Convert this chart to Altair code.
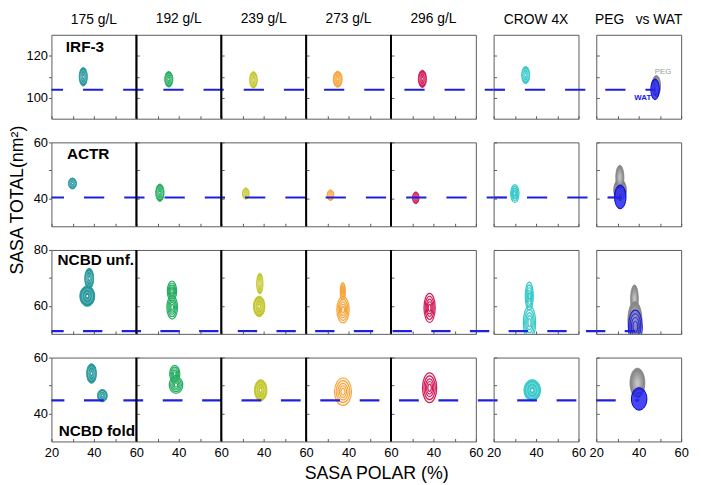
import altair as alt
import pandas as pd

FONT = "Liberation Sans"

# ---------------- data ----------------
ROW_NAMES = ["IRF-3", "ACTR", "NCBD unf.", "NCBD fold"]
ROW_LABEL_X = [26.8, 27.3, 22.9, 23.4]
ROW_LABEL_Y = [121.8, 54.1, 74.5, 32.1]
COL_TITLES = ["175 g/L", "192 g/L", "239 g/L", "273 g/L", "296 g/L", "CROW 4X",
              "PEG\u00a0\u00a0\u00a0vs WAT"]
COL_COLORS = ["#27979b", "#27ad62", "#c4c62f", "#f6a53c", "#d01c5a", "#3ac9c9", "#8e8e8e"]
Y_DOMAINS = [[90, 130], [30, 60], [50, 80], [30, 60]]
Y_TICKS = [[100, 110, 120], [40, 50, 60], [60, 70, 80], [40, 50, 60]]
Y_LABELS = [[100, 120], [40, 60], [60, 80], [40, 60]]
X_DOMAIN = [20, 60]
X_TICKS = [20, 30, 40, 50, 60]
X_LABELS = [20, 40, 60]
REF_LINE = [103.8, 40.3, 51.0, 44.7]
WAT_END = [47.7, 31.3, 38.4, 40.2]

# density blobs: panel row, panel column, centre, half-spread (x, y), look
BLOB_ROW = [0, 0, 0, 0, 0, 0, 0, 0,
            1, 1, 1, 1, 1, 1, 1, 1, 1,
            2, 2, 2, 2, 2, 2, 2, 2, 2, 2, 2, 2, 2, 2,
            3, 3, 3, 3, 3, 3, 3, 3, 3, 3]
BLOB_COL = [0, 1, 2, 3, 4, 5, 6, 6,
            0, 1, 2, 3, 4, 5, 6, 6, 6,
            0, 0, 1, 1, 2, 2, 3, 3, 4, 5, 5, 6, 6, 6,
            0, 0, 1, 1, 2, 3, 4, 5, 6, 6]
BLOB_CX = [35.0, 35.3, 35.2, 34.9, 34.8, 35.1, 48.3, 47.7,
           29.9, 31.1, 31.6, 31.5, 31.7, 30.0, 31.2, 31.1, 31.3,
           37.8, 36.9, 36.8, 36.9, 38.2, 37.9, 37.3, 37.4, 38.2, 36.8, 36.9, 38.0, 38.2, 38.4,
           38.9, 44.0, 38.1, 38.7, 38.6, 37.4, 38.2, 38.2, 39.4, 40.2]
BLOB_CY = [110.0, 108.8, 108.5, 108.8, 109.0, 110.8, 105.6, 104.0,
           45.3, 42.0, 41.7, 41.1, 40.2, 41.7, 43.0, 47.5, 40.5,
           69.8, 63.5, 65.3, 59.5, 68.0, 59.8, 65.2, 58.6, 59.3, 63.5, 54.0, 62.5, 55.0, 52.5,
           54.3, 46.4, 54.2, 50.2, 48.3, 47.8, 49.2, 48.3, 50.9, 45.2]
BLOB_SX = [1.9, 1.9, 1.8, 2.1, 1.9, 1.9, 2.0, 2.0,
           1.9, 1.95, 1.6, 1.6, 1.55, 1.95, 3.0, 1.9, 2.7,
           2.1, 3.5, 2.2, 2.5, 1.5, 2.7, 1.2, 2.9, 2.65, 1.9, 2.9, 1.8, 3.3, 3.3,
           2.3, 2.3, 2.4, 3.2, 2.95, 4.0, 3.35, 3.9, 3.5, 3.65]
BLOB_SY = [4.4, 3.7, 3.9, 3.8, 4.1, 4.1, 5.0, 4.9,
           1.95, 3.1, 2.0, 1.9, 2.1, 3.2, 3.8, 4.3, 4.25,
           3.65, 3.65, 3.6, 4.2, 3.7, 3.65, 3.1, 4.7, 5.2, 5.0, 6.0, 5.0, 6.5, 6.0,
           3.5, 2.2, 3.0, 3.0, 3.8, 4.9, 5.3, 3.8, 5.3, 4.0]
BLOB_LOOK = ["solid", "solid", "solid", "solid", "solid", "solid", "peg", "wat",
             "solid", "solid", "solid", "solid", "solid", "lines", "peg", "peg", "wat",
             "solid", "solid", "lines", "lines", "solid", "solid", "lines", "lines", "lines",
             "lines", "lines", "peg", "peg", "watlines",
             "solid", "solid", "lines", "lines", "solid", "lines", "lines", "solid", "peg", "wat"]

# ---------------- layout / style ----------------
W, H = 86, 85
GAP_ROW = 24
GAP_GROUP = 18
ORIGIN_X = 51
PANEL_LEFT = [ORIGIN_X + i * W for i in range(5)] + [ORIGIN_X + 5 * W + GAP_GROUP,
                                                      ORIGIN_X + 6 * W + 2 * GAP_GROUP]
DASH_STYLE = [(83, 40.7, 20.5), (84, 40.8, 20.5), (83, 39.2, 19.6), (84, 39.9, 20.0)]
LINE_BLUE = "#2020dc"
FRAME = "#5a5a5a"


def lighten(c, t):
    c = c.lstrip("#")
    rgb = [int(c[i:i + 2], 16) for i in (0, 2, 4)]
    rgb = [int(round(v + (255 - v) * t)) for v in rgb]
    return "#" + "".join(f"{v:02x}" for v in rgb)


def ellipse_path(r):
    k = 0.5523
    return (f"M0,-1 C{k*r:.3f},-1 {r:.3f},{-k:.3f} {r:.3f},0 "
            f"C{r:.3f},{k:.3f} {k*r:.3f},1 0,1 "
            f"C{-k*r:.3f},1 {-r:.3f},{k:.3f} {-r:.3f},0 "
            f"C{-r:.3f},{-k:.3f} {-k*r:.3f},-1 0,-1 Z")


def look_levels(look, color):
    if look == "solid":
        lt = lighten(color, 0.4)
        return [(1.0, color, 1.0, color, 1.0), (0.68, color, 0.0, lt, 0.9),
                (0.38, color, 0.0, lt, 0.9), (0.12, "#ffffff", 1.0, "#ffffff", 0.0)]
    if look == "lines":
        return [(1.0, color, 0.08, color, 1.2), (0.8, color, 0.0, color, 1.2),
                (0.6, color, 0.0, color, 1.2), (0.42, color, 0.0, color, 1.2),
                (0.24, color, 0.0, color, 1.2)]
    if look == "peg":
        return [(1.0, "#8a8a8a", 1.0, "#7d7d7d", 0.8), (0.74, "#9c9c9c", 1.0, "#909090", 0.8),
                (0.5, "#afafaf", 1.0, "#a5a5a5", 0.8), (0.26, "#c3c3c3", 1.0, "#bbbbbb", 0.8)]
    if look == "wat":
        return [(1.0, "#0b0bea", 0.75, "#0000d0", 1.0), (0.7, "#0b0bea", 0.0, "#4646ff", 0.9),
                (0.4, "#0b0bea", 0.0, "#4646ff", 0.9)]
    return [(1.0, "#3a3ae0", 0.35, "#2020d8", 1.1), (0.78, "#3a3ae0", 0.0, "#2020d8", 1.0),
            (0.56, "#3a3ae0", 0.0, "#2020d8", 1.0), (0.34, "#3a3ae0", 0.0, "#2020d8", 1.0)]


def blob_frame(r, c):
    ydom = Y_DOMAINS[r]
    pxx = W / (X_DOMAIN[1] - X_DOMAIN[0])
    pxy = H / (ydom[1] - ydom[0])
    recs = []
    for i in range(len(BLOB_ROW)):
        if BLOB_ROW[i] != r or BLOB_COL[i] != c:
            continue
        a = BLOB_SX[i] * pxx
        b = BLOB_SY[i] * pxy
        path = ellipse_path(a / b)
        for f, fill, fop, stroke, sw in look_levels(BLOB_LOOK[i], COL_COLORS[c]):
            recs.append(dict(x=BLOB_CX[i], y=BLOB_CY[i], size=(2 * b * f) ** 2,
                             shape=path, fill=fill, fop=fop, stroke=stroke, sw=sw))
    return pd.DataFrame(recs)


def make_panel(r, c):
    xscale = alt.Scale(domain=X_DOMAIN, nice=False, zero=False)
    yscale = alt.Scale(domain=Y_DOMAINS[r], nice=False, zero=False)
    bottom = r == 3
    shown = X_LABELS if c in (0, 5, 6) else [v for v in X_LABELS if v != X_DOMAIN[0]]
    xaxis_kw = dict(values=X_TICKS, tickSize=3, offset=-3, domain=False, grid=False,
                    tickColor=FRAME, labels=bottom, labelFont=FONT, labelFontSize=13,
                    labelColor="black", labelPadding=5, labelFlush=False, labelOverlap=False,
                    labelExpr=f"indexof({shown}, datum.value) >= 0 ? datum.label : ''",
                    title=None)
    if bottom and c == 3:
        xaxis_kw.update(title="SASA POLAR (%)", titleX=71, titleY=41, titleAlign="center",
                        titleBaseline="alphabetic", titleFont=FONT, titleFontSize=18,
                        titleFontWeight="normal", titleColor="black")
    if c == 0:
        yaxis_kw = dict(values=Y_TICKS[r], tickSize=3, domain=False, grid=False,
                        tickColor=FRAME, labelFont=FONT, labelFontSize=13, labelColor="black",
                        labelPadding=1, labelOverlap=False, labelFlush=False,
                        labelExpr=f"indexof({Y_LABELS[r]}, datum.value) >= 0 ? datum.label : ''",
                        title=None)
        if r == 1:
            yaxis_kw.update(title="SASA TOTAL(nm\u00b2)", titleX=-29, titleY=58, titleAngle=270,
                            titleAlign="center", titleBaseline="alphabetic", titleFont=FONT,
                            titleFontSize=18, titleFontWeight="normal", titleColor="black")
    else:
        yaxis_kw = dict(values=Y_TICKS[r], tickSize=3, offset=-3, domain=False, grid=False,
                        tickColor=FRAME, labels=False, title=None)
    xax = alt.Axis(**xaxis_kw)
    yax = alt.Axis(**yaxis_kw)

    def X(field="x"):
        return alt.X(f"{field}:Q", scale=xscale, axis=xax)

    def Y(field="y"):
        return alt.Y(f"{field}:Q", scale=yscale, axis=yax)

    blobs = alt.Chart(blob_frame(r, c)).mark_point(filled=True, opacity=1, clip=True).encode(
        x=X(), y=Y(),
        size=alt.Size("size:Q", scale=None),
        shape=alt.Shape("shape:N", scale=None),
        fill=alt.Fill("fill:N", scale=None),
        fillOpacity=alt.FillOpacity("fop:Q", scale=None),
        stroke=alt.Stroke("stroke:N", scale=None),
        strokeWidth=alt.StrokeWidth("sw:Q", scale=None),
    )
    layers = [blobs]

    if c == 6:
        x_end = WAT_END[r]
    elif c in (4, 5):
        x_end = X_DOMAIN[1] + GAP_GROUP * (X_DOMAIN[1] - X_DOMAIN[0]) / W
    else:
        x_end = X_DOMAIN[1]
    s0, period, dash = DASH_STYLE[r]
    d_off = (PANEL_LEFT[c] - s0) % period
    ref = alt.Chart(pd.DataFrame({"x": [X_DOMAIN[0]], "x2": [x_end], "y": [REF_LINE[r]]})).mark_rule(
        color=LINE_BLUE, strokeWidth=2.2, strokeDash=[dash, period - dash],
        strokeDashOffset=d_off, strokeCap="butt").encode(x=X(), x2="x2:Q", y=Y())
    layers.append(ref)

    if c in (1, 2, 3, 4):
        sep = alt.Chart(pd.DataFrame({"x": [X_DOMAIN[0]]})).mark_rule(
            color="black", strokeWidth=2).encode(x=X())
        layers.append(sep)

    if c == 0:
        lab = alt.Chart(pd.DataFrame({"x": [ROW_LABEL_X[r]], "y": [ROW_LABEL_Y[r]],
                                      "t": [ROW_NAMES[r]]})).mark_text(
            align="left", baseline="alphabetic", font=FONT, fontSize=15.5,
            fontWeight="bold", color="black").encode(x=X(), y=Y(), text="t:N")
        layers.append(lab)

    if r == 0 and c == 6:
        peg = alt.Chart(pd.DataFrame({"x": [51.5], "y": [112.1], "t": ["PEG"]})).mark_text(
            align="center", baseline="middle", font=FONT, fontSize=8, color="#9a9a9a").encode(
            x=X(), y=Y(), text="t:N")
        wat = alt.Chart(pd.DataFrame({"x": [41.9], "y": [99.9], "t": ["WAT"]})).mark_text(
            align="center", baseline="middle", font=FONT, fontSize=8, fontWeight="bold",
            color="#1a1ae0").encode(x=X(), y=Y(), text="t:N")
        layers += [peg, wat]

    props = dict(width=W, height=H)
    if r == 0:
        props["title"] = alt.TitleParams(COL_TITLES[c], font=FONT, fontSize=14,
                                         fontWeight="normal", color="black",
                                         baseline="alphabetic", offset=-3, anchor="middle")
    return alt.layer(*layers).properties(**props)


def spacer():
    return alt.Chart(pd.DataFrame({"a": [0]})).mark_point(opacity=0).encode(
        x=alt.X("a:Q", axis=None), y=alt.Y("a:Q", axis=None)
    ).properties(width=GAP_GROUP, height=H, view=alt.ViewBackground(stroke=None))


cells = []
for r in range(4):
    panels = [make_panel(r, c) for c in range(7)]
    cells += panels[:5] + [spacer(), panels[5], spacer(), panels[6]]

chart = alt.concat(*cells, columns=9, spacing={"row": GAP_ROW, "column": 0}).properties(
    bounds="flush", align="none",
    padding={"left": 0, "top": 0, "right": 4, "bottom": 0}
).configure_view(stroke=FRAME, strokeWidth=1)

chart.save("out.html", embed_options={"renderer": "svg", "actions": False})
